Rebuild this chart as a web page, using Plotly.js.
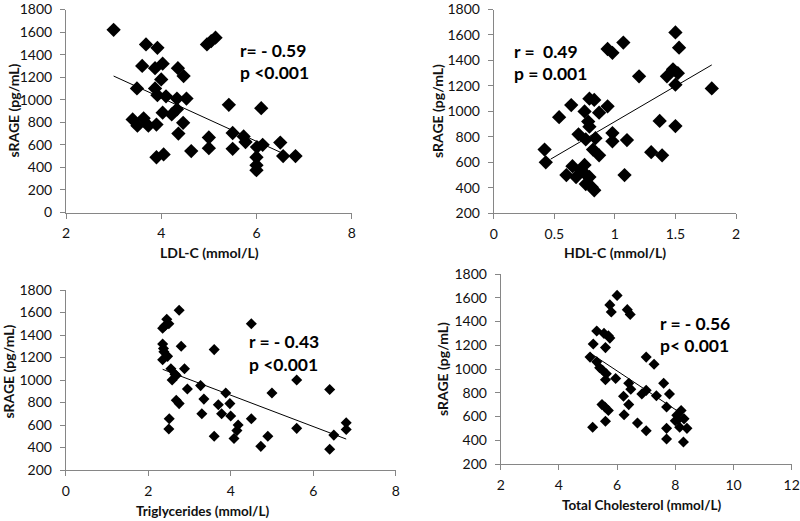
<!DOCTYPE html>
<html>
<head>
<meta charset="utf-8">
<script src="https://cdn.plot.ly/plotly-3.0.1.min.js"></script>
<style>html,body{margin:0;padding:0;background:#fff;}#chart{width:800px;height:521px;}</style>
</head>
<body>
<div id="chart"></div>
<script>
// ---- Data ----
const ldl = [3.0, 3.68, 3.92, 3.6, 3.87, 4.03, 3.49, 4.0, 3.87, 3.92, 4.1, 3.4, 3.63, 3.5, 3.73, 3.9, 4.03, 4.22, 4.33, 4.33, 4.53, 4.46, 4.36, 3.9, 4.05, 4.63, 4.35, 4.47, 4.96, 5.14, 5.05, 5.42, 5.0, 5.0, 5.5, 5.5, 5.73, 5.77, 6.1, 6.01, 6.13, 6.0, 6.0, 6.0, 6.5, 6.56, 6.82];
const sragLdl = [1620, 1490, 1460, 1300, 1280, 1320, 1100, 1180, 1100, 1040, 1030, 825, 835, 770, 770, 780, 885, 870, 915, 1010, 1010, 795, 700, 490, 515, 545, 1280, 1210, 1490, 1550, 1520, 955, 665, 570, 705, 565, 675, 625, 925, 580, 600, 490, 420, 375, 620, 500, 500];
const ldlTrendX = [3.0, 6.55];
const ldlTrendY = [1210, 525];

const hdl = [1.5, 1.53, 1.07, 0.94, 0.98, 1.2, 1.43, 1.48, 1.52, 1.5, 1.8, 1.37, 1.5, 1.3, 1.39, 1.08, 1.1, 0.98, 0.98, 0.79, 0.83, 0.75, 0.87, 0.94, 0.64, 0.54, 0.78, 0.79, 0.7, 0.76, 0.84, 0.82, 0.87, 0.42, 0.43, 0.6, 0.65, 0.75, 0.68, 0.72, 0.76, 0.76, 0.81, 0.83, 0.79];
const sragHdl = [1620, 1500, 1540, 1490, 1460, 1275, 1275, 1330, 1300, 1210, 1180, 925, 885, 680, 655, 500, 775, 830, 765, 1100, 1090, 1000, 990, 1040, 1050, 955, 920, 880, 820, 780, 790, 700, 655, 700, 600, 500, 570, 580, 485, 535, 505, 430, 405, 380, 485];
const hdlTrendX = [0.47, 1.8];
const hdlTrendY = [625, 1365];

const tg = [2.75, 2.45, 2.5, 2.4, 2.35, 2.35, 2.37, 2.38, 2.8, 2.35, 2.47, 2.55, 2.88, 2.65, 2.58, 2.68, 2.95, 3.27, 2.68, 2.75, 3.35, 3.3, 2.51, 2.5, 3.6, 3.6, 4.5, 3.88, 3.7, 3.78, 3.98, 4.0, 4.18, 4.15, 4.08, 4.5, 4.73, 4.9, 5.0, 5.6, 5.6, 6.4, 6.4, 6.5, 6.8, 6.8];
const sragTg = [1620, 1540, 1500, 1480, 1460, 1320, 1280, 1250, 1300, 1180, 1210, 1100, 1100, 1050, 1000, 1040, 920, 950, 820, 790, 830, 700, 655, 565, 500, 1270, 1500, 885, 780, 700, 790, 680, 600, 550, 480, 655, 410, 500, 885, 1000, 570, 915, 385, 510, 620, 560];
const tgTrendX = [2.35, 6.8];
const tgTrendY = [1095, 475];

const tc = [6.0, 5.75, 5.8, 6.35, 6.45, 5.3, 5.55, 5.7, 5.75, 5.18, 5.6, 5.07, 5.3, 5.4, 5.5, 5.63, 5.6, 5.95, 6.4, 6.47, 6.22, 6.4, 7.0, 7.27, 7.0, 6.85, 7.35, 7.6, 7.8, 7.7, 5.48, 5.58, 5.7, 6.24, 5.6, 5.16, 6.7, 7.0, 7.7, 7.7, 8.2, 8.1, 8.3, 8.0, 8.15, 8.4, 8.28, 8.05];
const sragTc = [1620, 1540, 1480, 1500, 1460, 1320, 1300, 1280, 1260, 1210, 1180, 1100, 1060, 1010, 990, 960, 910, 920, 880, 830, 770, 700, 1100, 1040, 820, 790, 775, 880, 790, 680, 700, 680, 650, 615, 560, 510, 545, 480, 500, 410, 650, 575, 580, 565, 510, 500, 385, 610];
const tcTrendX = [5.07, 8.3];
const tcTrendY = [1135, 610];

const xTitles = ['LDL-C (mmol/L)', 'HDL-C (mmol/L)', 'Triglycerides (mmol/L)', 'Total Cholesterol (mmol/L)'];
const yTitle = 'sRAGE (pg/mL)';
const rLabels = ['r=\u00a0- 0.59', 'r =\u00a0\u00a00.49', 'r = - 0.43', 'r = - 0.56'];
const pLabels = ['p <0.001', 'p = 0.001', 'p <0.001', 'p< 0.001'];

const xTicks1 = [2, 4, 6, 8];
const xTicks2 = [0, 0.5, 1, 1.5, 2];
const xTicks3 = [0, 2, 4, 6, 8];
const xTicks4 = [2, 4, 6, 8, 10, 12];
const yTicks1 = [0, 200, 400, 600, 800, 1000, 1200, 1400, 1600, 1800];
const yTicks2 = [200, 400, 600, 800, 1000, 1200, 1400, 1600, 1800];

// ---- Traces ----
function pts(x, y, xa, ya, size) {
  return {x: x, y: y, xaxis: xa, yaxis: ya, type: 'scatter', mode: 'markers',
    marker: {symbol: 'diamond', size: size, color: '#000', line: {width: 0}}, hoverinfo: 'skip'};
}
function trend(x, y, xa, ya) {
  return {x: x, y: y, xaxis: xa, yaxis: ya, type: 'scatter', mode: 'lines',
    line: {color: '#000', width: 1}, hoverinfo: 'skip'};
}
const data = [
  trend(ldlTrendX, ldlTrendY, 'x', 'y'),
  pts(ldl, sragLdl, 'x', 'y', 11),
  trend(hdlTrendX, hdlTrendY, 'x2', 'y2'),
  pts(hdl, sragHdl, 'x2', 'y2', 11),
  trend(tgTrendX, tgTrendY, 'x3', 'y3'),
  pts(tg, sragTg, 'x3', 'y3', 8.5),
  trend(tcTrendX, tcTrendY, 'x4', 'y4'),
  pts(tc, sragTc, 'x4', 'y4', 8.5)
];

// ---- Layout ----
const axisColor = '#868686';
function xa(domain, range, ticks, anchor) {
  return {domain: domain, range: range, tickvals: ticks, anchor: anchor,
    showline: true, linecolor: axisColor, linewidth: 1, ticks: 'outside', ticklen: 5, tickcolor: axisColor,
    showgrid: false, zeroline: false, ticklabelstandoff: 3, ticklabeloverflow: 'allow',
    tickfont: {size: 14, color: '#111'}, fixedrange: true};
}
function ya(domain, range, ticks, anchor) {
  return {domain: domain, range: range, tickvals: ticks, anchor: anchor,
    showline: true, linecolor: axisColor, linewidth: 1, ticks: 'outside', ticklen: 5, tickcolor: axisColor,
    showgrid: false, zeroline: false, ticklabelstandoff: 5, ticklabeloverflow: 'allow',
    tickfont: {size: 14, color: '#111'}, fixedrange: true};
}
const W = 800, H = 521;
function px(x) { return x / W; }
function py(y) { return 1 - y / H; }

const annotations = [];
function stat(xref, yref, x, y1, y2, i) {
  annotations.push({xref: xref, yref: yref, x: x, y: y1, text: '<b>' + rLabels[i] + '</b>', showarrow: false,
    xanchor: 'left', yanchor: 'middle', font: {size: 17.5, color: '#000'}});
  annotations.push({xref: xref, yref: yref, x: x, y: y2, text: '<b>' + pLabels[i] + '</b>', showarrow: false,
    xanchor: 'left', yanchor: 'middle', font: {size: 17.5, color: '#000'}});
}
stat('x', 'y', 5.61, 1434, 1241, 0);
stat('x2', 'y2', 0.15, 1468, 1298, 1);
stat('x3', 'y3', 4.4, 1338, 1142, 2);
stat('x4', 'y4', 7.41, 1387, 1194, 3);

function axTitle(text, x, y, angle, size) {
  annotations.push({xref: 'paper', yref: 'paper', x: px(x), y: py(y), text: '<b>' + text + '</b>', showarrow: false,
    xanchor: 'center', yanchor: 'middle', textangle: angle, font: {size: size, color: '#111'}});
}
axTitle(xTitles[0], 209, 252, 0, 14);
axTitle(xTitles[1], 615, 252, 0, 14);
axTitle(xTitles[2], 203, 511, 0, 13.5);
axTitle(xTitles[3], 641, 505, 0, 13.5);
axTitle(yTitle, 12.5, 111, -90, 14);
axTitle(yTitle, 437, 111, -90, 14);
axTitle(yTitle, 8.5, 372, -90, 14);
axTitle(yTitle, 442, 369, -90, 14);

const layout = {
  width: W, height: H,
  margin: {l: 0, r: 0, t: 0, b: 0},
  paper_bgcolor: '#fff', plot_bgcolor: '#fff',
  showlegend: false,
  font: {family: 'Lato, "Open Sans", sans-serif', size: 14, color: '#111'},
  xaxis: xa([px(66), px(351.7)], [2, 8], xTicks1, 'y'),
  yaxis: ya([py(212.5), py(9.5)], [0, 1800], yTicks1, 'x'),
  xaxis2: xa([px(493.7), px(736)], [0, 2], xTicks2, 'y2'),
  yaxis2: ya([py(213.3), py(9.5)], [200, 1800], yTicks2, 'x2'),
  xaxis3: xa([px(65.7), px(395.7)], [0, 8], xTicks3, 'y3'),
  yaxis3: ya([py(470), py(290)], [200, 1800], yTicks2, 'x3'),
  xaxis4: xa([px(500.7), px(791.7)], [2, 12], xTicks4, 'y4'),
  yaxis4: ya([py(464), py(274)], [200, 1800], yTicks2, 'x4'),
  annotations: annotations
};

Plotly.newPlot('chart', data, layout, {displayModeBar: false, staticPlot: true});
</script>
</body>
</html>
